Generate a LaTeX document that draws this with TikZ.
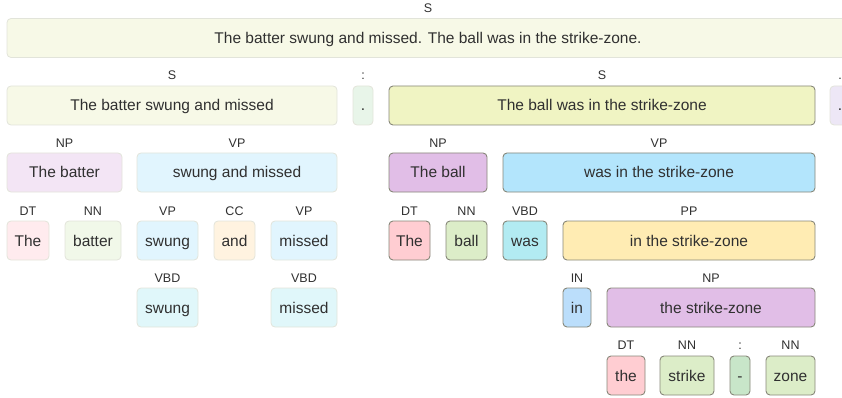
\documentclass[tikz,border=0pt]{standalone}
\usepackage{fontspec}
\setmainfont{Liberation Sans}
\definecolor{txt}{HTML}{303030}
\definecolor{lborder}{HTML}{E2E4DA}
\definecolor{dborder}{HTML}{878779}
% faded (50) shades
\definecolor{fS}{HTML}{F7F9E7}
\definecolor{fColon}{HTML}{E8F5E9}
\definecolor{fNP}{HTML}{F3E5F5}
\definecolor{fVP}{HTML}{E1F5FE}
\definecolor{fDT}{HTML}{FFEBEE}
\definecolor{fNN}{HTML}{F1F8E9}
\definecolor{fCC}{HTML}{FFF3E0}
\definecolor{fVBD}{HTML}{E0F7FA}
% highlighted (100) shades
\definecolor{hS}{HTML}{F0F4C3}
\definecolor{hDot}{HTML}{EDE7F6}
\definecolor{hNP}{HTML}{E1BEE7}
\definecolor{hVP}{HTML}{B3E5FC}
\definecolor{hDT}{HTML}{FFCDD2}
\definecolor{hNN}{HTML}{DCEDC8}
\definecolor{hVBD}{HTML}{B2EBF2}
\definecolor{hPP}{HTML}{FFECB3}
\definecolor{hIN}{HTML}{BBDEFB}
\definecolor{hColon}{HTML}{C8E6C9}
\tikzset{
  wbox/.style={rounded corners=4pt, minimum height=39pt, inner sep=0pt, text=txt,
    text height=14.5pt, text depth=3.5pt,
    font=\fontsize{15.5}{18}\selectfont},
  fadebox/.style={wbox, draw=lborder, line width=0.8pt},
  hibox/.style={wbox, draw=dborder, line width=0.9pt},
  lab/.style={inner sep=0pt, text=txt, text height=11.5pt, text depth=2.5pt,
    font=\fontsize{12.5}{14}\selectfont}
}
\begin{document}
\begin{tikzpicture}[x=1pt,y=-1pt]
\useasboundingbox (0,0) rectangle (842,398);
\clip (0,0) rectangle (842,398);
% Row 1
\node[lab] (l0) at (428,8) {S};
\node[fadebox, fill=fS, minimum width=842pt] (s0) at (428,38) {The batter swung and missed. The ball was in the strike-zone.};
% Row 2
\node[lab] (l1) at (172,75) {S};
\node[fadebox, fill=fS, minimum width=330pt] (s1) at (172,105.5) {The batter swung and missed};
\node[lab] (l2) at (363,75) {:};
\node[fadebox, fill=fColon, minimum width=20pt] (c1) at (363,105.5) {.};
\node[lab] (l3) at (602,75) {S};
\node[hibox, fill=hS, minimum width=426pt] (s2) at (602,105.5) {The ball was in the strike-zone};
\node[lab] (l4) at (840,75) {.};
\node[fadebox, fill=hDot, minimum width=20pt] (d1) at (840,105.5) {.};
% Row 3
\node[lab] (l5) at (64.5,143) {NP};
\node[fadebox, fill=fNP, minimum width=115pt] (np1) at (64.5,172.5) {The batter};
\node[lab] (l6) at (237,143) {VP};
\node[fadebox, fill=fVP, minimum width=200pt] (vp1) at (237,172.5) {swung and missed};
\node[lab] (l7) at (438,143) {NP};
\node[hibox, fill=hNP, minimum width=98pt] (np2) at (438,172.5) {The ball};
\node[lab] (l8) at (659,143) {VP};
\node[hibox, fill=hVP, minimum width=312pt] (vp2) at (659,172.5) {was in the strike-zone};
% Row 4
\node[lab] (l9) at (28,211) {DT};
\node[fadebox, fill=fDT, minimum width=42pt] (dt1) at (28,240.5) {The};
\node[lab] (l10) at (93,211) {NN};
\node[fadebox, fill=fNN, minimum width=56pt] (nn1) at (93,240.5) {batter};
\node[lab] (l11) at (167.5,211) {VP};
\node[fadebox, fill=fVP, minimum width=61pt] (vp3) at (167.5,240.5) {swung};
\node[lab] (l12) at (234.5,211) {CC};
\node[fadebox, fill=fCC, minimum width=41pt] (cc1) at (234.5,240.5) {and};
\node[lab] (l13) at (304,211) {VP};
\node[fadebox, fill=fVP, minimum width=66pt] (vp4) at (304,240.5) {missed};
\node[lab] (l14) at (409.5,211) {DT};
\node[hibox, fill=hDT, minimum width=41pt] (dt2) at (409.5,240.5) {The};
\node[lab] (l15) at (466.5,211) {NN};
\node[hibox, fill=hNN, minimum width=41pt] (nn2) at (466.5,240.5) {ball};
\node[lab] (l16) at (525,211) {VBD};
\node[hibox, fill=hVBD, minimum width=44pt] (vbd1) at (525,240.5) {was};
\node[lab] (l17) at (689,211) {PP};
\node[hibox, fill=hPP, minimum width=252pt] (pp1) at (689,240.5) {in the strike-zone};
% Row 5
\node[lab] (l18) at (167.5,278) {VBD};
\node[fadebox, fill=fVBD, minimum width=61pt] (vbd2) at (167.5,307.5) {swung};
\node[lab] (l19) at (304,278) {VBD};
\node[fadebox, fill=fVBD, minimum width=66pt] (vbd3) at (304,307.5) {missed};
\node[lab] (l20) at (577,278) {IN};
\node[hibox, fill=hIN, minimum width=28pt] (in1) at (577,307.5) {in};
\node[lab] (l21) at (711,278) {NP};
\node[hibox, fill=hNP, minimum width=208pt] (np3) at (711,307.5) {the strike-zone};
% Row 6
\node[lab] (l22) at (626,345) {DT};
\node[hibox, fill=hDT, minimum width=38pt] (dt3) at (626,375.5) {the};
\node[lab] (l23) at (687,345) {NN};
\node[hibox, fill=hNN, minimum width=54pt] (nn3) at (687,375.5) {strike};
\node[lab] (l24) at (740,345) {:};
\node[hibox, fill=hColon, minimum width=20pt] (c2) at (740,375.5) {-};
\node[lab] (l25) at (790.5,345) {NN};
\node[hibox, fill=hNN, minimum width=49pt] (nn4) at (790.5,375.5) {zone};
\end{tikzpicture}
\end{document}
